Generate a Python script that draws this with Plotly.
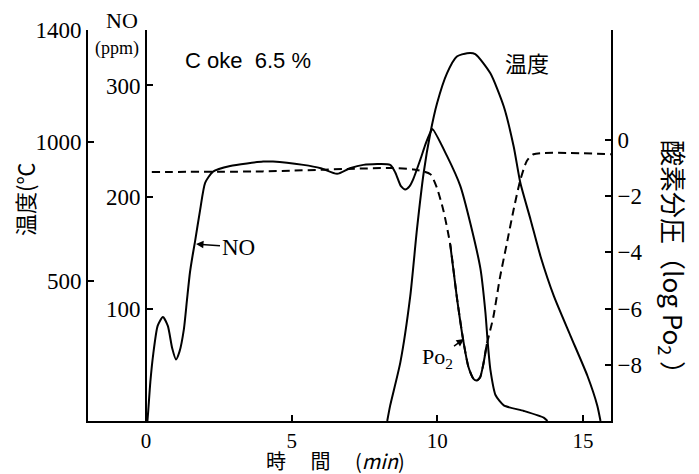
import plotly.graph_objects as go

# ---- data ----
no_time = [0.05, 0.08, 0.15, 0.25, 0.40, 0.58, 0.75, 0.90, 1.03, 1.15, 1.30, 1.41, 1.51, 1.60, 1.68,
           1.86, 2.03, 2.30, 2.89, 4.02, 4.36, 5.40, 6.00, 6.56, 7.00, 7.46, 8.38, 8.56, 8.75, 8.90,
           9.05, 9.17, 9.42, 9.60, 9.76, 9.83, 10.33, 10.79, 11.13, 11.48, 11.65, 11.73, 11.82,
           12.00, 12.28, 12.97, 13.65, 13.78]
no_ppm = [0, 10, 35, 60, 85, 93, 85, 65, 55, 62, 82, 109, 133, 148, 160,
          189, 213, 223, 228, 232, 232, 229, 226, 221, 226, 229, 229, 222, 210, 207,
          210, 216, 234, 248, 258, 261, 237, 210, 177, 136, 97, 70, 46,
          23, 14, 9, 3, 0]

temp_time = [8.28, 8.38, 8.73, 9.07, 9.30, 9.53, 9.76, 9.99, 10.33, 10.67, 11.02, 11.30, 11.82,
             12.28, 12.62, 12.85, 13.20, 13.54, 14.00, 14.57, 15.15, 15.49, 15.60]
temp_c = [0, 55, 210, 447, 686, 888, 1031, 1138, 1245, 1305, 1317, 1314, 1245,
          1126, 983, 852, 721, 590, 447, 305, 162, 55, 0]

po2_time = [0.2, 4.0, 8.4, 9.2, 9.76, 9.98, 10.21, 10.44, 10.67, 10.89, 11.07, 11.24, 11.35,
            11.47, 11.58, 11.70, 11.92, 12.15, 12.38, 12.61, 12.84, 13.07, 13.30, 15.96]
po2_log = [-1.14, -1.12, -1.00, -1.05, -1.22, -1.69, -2.52, -3.71, -5.60, -7.14, -8.09, -8.50, -8.56,
           -8.44, -7.97, -7.26, -6.31, -4.89, -3.71, -2.52, -1.46, -0.75, -0.51, -0.51]
po2_solid_from, po2_solid_to = 10.44, 11.70

x_ticks = [0, 5, 10, 15]
temp_ticks = [500, 1000, 1400]
no_ticks = [100, 200, 300]
po2_ticks = [0, -2, -4, -6, -8]
po2_ticktext = ["0", "\u22122", "\u22124", "\u22126", "\u22128"]

SERIF = "Liberation Serif, Times New Roman, serif"
SANS = "Liberation Sans, Arial, sans-serif"
CJK = "Noto Sans CJK JP, Noto Sans CJK SC, sans-serif"

W, H = 699, 474
PL, PR, PT, PB = 88, 611, 30, 421          # plot area in page pixels
L, R, T, B = PL, W - PR, PT, H - PB
PW, PH = PR - PL, PB - PT


def px(xp):
    return (xp - PL) / PW


def py(yp):
    return (PB - yp) / PH


fig = go.Figure()
line = dict(color="black", width=2)

fig.add_trace(go.Scatter(x=temp_time, y=temp_c, mode="lines", yaxis="y",
                         line=dict(line, shape="spline", smoothing=0.6), showlegend=False))
fig.add_trace(go.Scatter(x=no_time, y=no_ppm, mode="lines", yaxis="y2",
                         line=dict(line, shape="spline", smoothing=0.6), showlegend=False))
fig.add_trace(go.Scatter(x=po2_time, y=po2_log, mode="lines", yaxis="y3",
                         line=dict(color="black", width=2, dash="8px,5px", shape="spline", smoothing=0.6),
                         showlegend=False))
sx = [t for t in po2_time if po2_solid_from <= t <= po2_solid_to]
sy = [v for t, v in zip(po2_time, po2_log) if po2_solid_from <= t <= po2_solid_to]
fig.add_trace(go.Scatter(x=sx, y=sy, mode="lines", yaxis="y3",
                         line=dict(line, shape="spline", smoothing=0.6), showlegend=False))

tickfont = dict(family=SERIF, size=23, color="black")
axcommon = dict(showline=True, linecolor="black", linewidth=2, ticks="inside", ticklen=6,
                tickwidth=2, tickcolor="black", showgrid=False, zeroline=False, tickfont=tickfont)

fig.update_layout(
    width=W, height=H, margin=dict(l=L, r=R, t=T, b=B, pad=0, autoexpand=False),
    paper_bgcolor="white", plot_bgcolor="white",
    xaxis=dict(axcommon, range=[-1.99, 15.96], tickvals=x_ticks, domain=[0, 1], anchor="y",
               tickfont=dict(family=SERIF, size=21, color="black")),
    yaxis=dict(axcommon, range=[0, 1400], tickvals=temp_ticks, side="left"),
    yaxis2=dict(axcommon, range=[0, 349.6], tickvals=no_ticks, overlaying="y",
                anchor="free", position=(146 - PL) / PW, side="left"),
    yaxis3=dict(axcommon, range=[-10, 3.91], tickvals=po2_ticks, ticktext=po2_ticktext,
                overlaying="y", anchor="x", side="right"),
)

ann = []


def text(s, xp, yp, size, family, angle=0, **kw):
    ann.append(dict(text=s, x=px(xp), y=py(yp), xref="paper", yref="paper", showarrow=False,
                    textangle=angle, font=dict(family=family, size=size, color="black"),
                    xanchor="center", yanchor="middle", **kw))


text("NO", 122, 21, 22, SERIF)
text("(ppm)", 117, 48, 18, SERIF)
text("C oke  6.5 %", 248, 60, 22, SANS)
text("温度", 527, 62, 22, CJK)
text("時　 間　 (<i>min</i>)", 335, 460, 20, CJK)
text("温度(℃", 24, 200, 22, CJK, angle=-90)
text("酸素分圧（log Po<sub>2</sub> ）", 673, 263, 26, CJK, angle=90)

# pointer labels
ann.append(dict(text="NO", x=px(196), y=py(244), xref="paper", yref="paper", showarrow=True,
                ax=42, ay=3, arrowhead=2, arrowsize=1, arrowwidth=1.5, arrowcolor="black",
                font=dict(family=SERIF, size=23, color="black")))
ann.append(dict(text="Po<sub>2</sub>", x=px(464), y=py(339), xref="paper", yref="paper",
                showarrow=True, ax=-27, ay=19, arrowhead=2, arrowsize=1, arrowwidth=1.5,
                arrowcolor="black", font=dict(family=SERIF, size=22, color="black")))

fig.update_layout(annotations=ann)
fig.write_html("out.html", config={"displayModeBar": False},
               post_script="document.body.style.margin='0';document.body.style.overflow='hidden';")
